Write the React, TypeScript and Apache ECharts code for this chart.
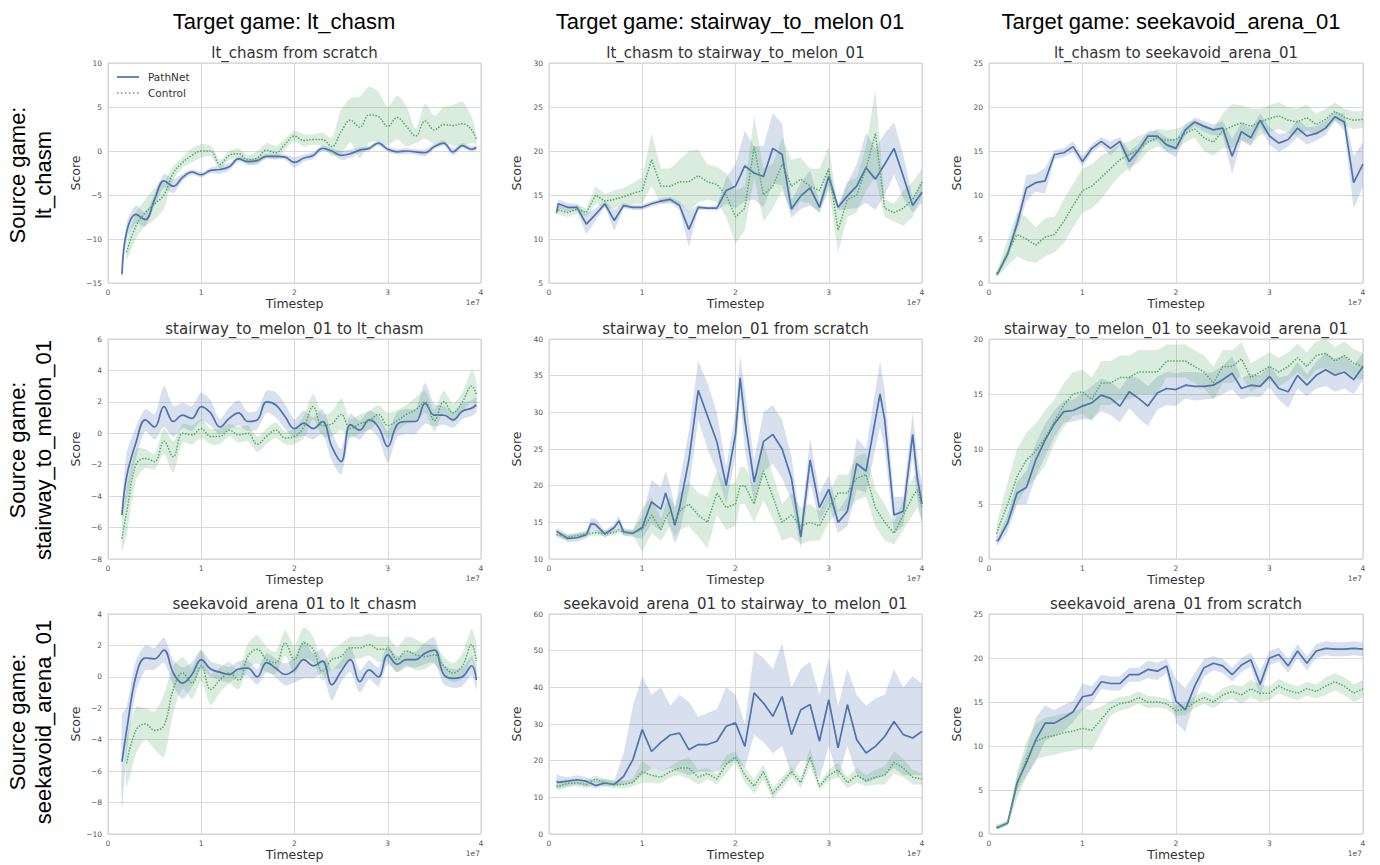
import React, { useEffect, useRef } from "react";
import * as echarts from "echarts";

// ---- x grids (timestep, units of 1e7) ----
const X_A = [0.15,0.2,0.3,0.4,0.5,0.6,0.7,0.8,0.9,1.0, 1.1,1.2,1.3,1.4,1.5,1.6,1.7,1.8,1.9,2.0, 2.1,2.2,2.3,2.4,2.5,2.6,2.7,2.8,2.9,3.0, 3.1,3.2,3.3,3.4,3.5,3.6,3.7,3.8,3.9,3.95];
const X_B = [0.08,0.1,0.2,0.3,0.4,0.5,0.6,0.7,0.8,0.9, 1.0,1.1,1.2,1.3,1.4,1.5,1.6,1.7,1.8,1.9, 2.0,2.1,2.2,2.3,2.4,2.5,2.6,2.7,2.8,2.9, 3.0,3.1,3.2,3.3,3.4,3.5,3.6,3.7,3.8,3.9, 4.0];
const X_5 = [0.08,0.2,0.3,0.4,0.45,0.5,0.6,0.7,0.75,0.8, 0.9,1.0,1.1,1.2,1.25,1.3,1.35,1.4,1.5,1.6, 1.7,1.8,1.9,2.0,2.05,2.1,2.2,2.3,2.4,2.5, 2.6,2.7,2.8,2.9,3.0,3.1,3.2,3.3,3.4,3.5, 3.55,3.6,3.7,3.8,3.9,3.95,4.0];

// ---- Panel 1: lt_chasm from scratch ----
const p1PathNet = [-14,-9.2,-7.2,-7.8,-5.5,-3.4,-4.0,-3.0,-2.4,-2.7, -2.2,-2.1,-1.8,-0.9,-1.2,-1.1,-0.6,-0.6,-0.7,-1.3, -0.8,-0.5,0.3,0.0,-0.5,-0.3,0.1,0.3,0.9,0.2, -0.1,0.0,-0.1,-0.2,0.5,0.9,-0.1,0.6,0.2,0.4];
const p1PathNetSpread = [0.8,1.0,1.0,0.8,0.7,0.8,0.8,0.4,0.3,0.3, 0.3,0.5,0.4,0.3,0.4,0.3,0.3,0.3,0.3,0.6, 0.4,0.4,0.3,0.3,0.5,0.5,0.3,0.3,0.3,0.3, 0.3,0.3,0.3,0.4,0.3,0.3,0.4,0.3,0.3,0.3];
const p1Control = [null,-11.5,-8.5,-7.0,-6.0,-5.0,-2.5,-1.3,-0.5,0.0, 0.0,-1.5,-0.5,-0.3,-1.0,-0.8,0.1,-0.2,0.8,1.7, 1.2,1.3,1.3,0.5,2.2,3.5,2.7,4.1,3.9,2.8, 3.8,2.8,1.7,3.4,2.4,3.0,2.9,3.1,2.4,1.3];
const p1ControlSpread = [0,0.8,1.5,1.5,1.8,1.5,0.8,0.6,0.8,0.8, 0.6,0.5,0.5,0.6,0.5,0.8,0.8,0.8,0.6,0.6, 0.7,0.6,0.8,1.0,2.5,2.5,3.5,3.2,2.8,2.2, 2.5,2.3,0.8,2.0,1.6,2.0,2.3,2.5,1.5,0.5];

// ---- Panel 2: lt_chasm to stairway_to_melon_01 ----
const p2PathNet = [13.0,14.0,13.6,13.6,11.7,12.8,14.0,12.1,13.8,13.6, 13.6,14.0,14.3,14.5,13.8,11.1,13.6,13.5,13.5,15.5, 16.0,18.3,17.5,17.1,20.3,19.6,13.4,14.9,15.8,13.6, 17.1,13.6,14.9,16.0,18.1,16.8,18.5,20.3,17.1,13.8, 15.3];
const p2PathNetSpread = [0.3,0.5,0.5,0.4,1.2,0.7,0.3,1.2,0.3,0.3, 0.3,0.3,0.3,0.3,0.5,2.0,0.3,0.2,0.3,1.5, 2.5,4.0,3.0,3.5,4.0,3.5,1.0,1.5,2.0,0.6, 1.0,0.3,1.5,2.5,4.0,3.5,3.5,3.0,2.5,0.8, 1.2];
const p2Control = [13.0,13.3,13.0,13.4,13.0,15.0,14.3,14.5,14.8,15.2, 15.5,19.0,16.0,16.0,16.5,16.5,17.2,16.5,16.2,15.0, 12.5,13.5,20.5,15.0,16.0,18.5,16.0,16.8,16.0,15.5, 18.0,11.0,14.5,15.0,18.0,22.0,13.5,13.0,13.5,14.5, 16.5];
const p2ControlSpread = [0.3,0.5,0.5,0.5,0.5,1.0,0.8,1.0,1.0,1.2, 1.5,3.0,2.0,2.0,2.5,3.5,3.0,2.0,2.0,2.5, 3.0,2.5,3.5,3.0,2.5,3.0,3.0,2.5,2.0,2.5, 2.5,2.5,2.0,2.0,2.5,5.0,1.0,1.0,2.0,2.0, 1.5];

// ---- Panel 3: lt_chasm to seekavoid_arena_01 ----
const p3PathNet = [1.0,1.2,3.3,6.7,10.8,11.4,11.6,14.6,14.8,15.5, 13.8,15.3,16.1,15.3,16.1,13.8,15.1,16.7,16.7,15.7, 15.3,17.4,18.3,17.8,17.4,17.6,14.4,17.2,16.5,18.5, 16.7,15.9,16.3,17.6,16.7,17.0,17.6,18.9,18.3,11.4, 13.5];
const p3PathNetSpread = [0.3,0.3,0.5,0.8,1.5,1.0,1.5,0.5,0.5,0.6, 0.6,0.5,0.5,0.8,0.5,1.2,0.7,0.6,0.6,0.8, 1.0,0.6,0.5,0.6,0.6,0.8,2.0,1.0,1.0,0.8, 1.0,1.0,0.8,1.0,1.0,0.8,0.8,0.5,1.0,3.0, 2.5];
const p3Control = [1.0,1.3,3.5,5.5,5.0,4.3,5.2,5.5,7.0,8.8, 10.5,11.0,12.0,13.0,14.0,14.6,15.2,16.0,16.5,16.2, 16.3,17.0,17.5,16.5,16.0,17.3,17.8,18.2,17.8,18.3, 18.7,19.0,18.5,18.3,18.8,18.0,18.6,19.5,18.8,18.5, 18.6];
const p3ControlSpread = [0.3,0.5,1.5,2.5,2.5,2.0,2.2,2.0,2.5,2.5, 2.5,2.5,2.5,2.0,1.8,1.5,1.5,1.0,1.0,1.2, 1.2,1.0,1.0,1.5,1.5,2.0,2.5,2.0,2.0,1.5, 1.5,1.5,1.5,1.5,1.5,1.2,1.2,1.0,1.0,1.0, 1.0];

// ---- Panel 4: stairway_to_melon_01 to lt_chasm ----
const p4PathNet = [-5.2,-2.75,-0.6,0.85,0.4,1.7,0.75,1.15,0.95,1.7, 1.3,0.4,0.95,1.3,0.75,0.85,2.0,1.8,1.05,0.3, 0.65,0.3,0.75,-0.85,-1.8,0.55,0.2,0.85,0.4,-0.85, 0.55,0.75,0.75,1.9,1.15,1.15,0.85,1.4,1.6,1.8];
const p4PathNetSpread = [0.3,1.5,1.0,0.7,0.8,1.3,1.0,0.8,0.8,0.9, 0.8,0.5,0.7,0.8,0.6,0.6,0.7,0.8,0.8,0.6, 0.8,0.7,0.8,0.9,0.8,0.7,0.6,0.6,0.7,1.0, 0.8,0.8,0.8,1.3,0.7,0.6,0.5,0.5,0.5,0.5];
const p4Control = [-6.7,-5.0,-2.0,-1.6,-1.8,-0.5,-1.5,0.0,-0.1,0.3, -0.2,-0.2,0.2,-0.1,0.0,-0.7,-0.2,0.2,-0.3,-0.2, 0.4,1.7,0.5,0.6,1.2,0.3,0.6,0.8,1.2,0.5, 0.8,1.2,1.5,2.0,0.8,2.0,1.3,2.0,3.0,2.5];
const p4ControlSpread = [0.8,1.5,1.0,0.6,0.5,0.8,1.0,0.6,0.6,0.6, 0.5,0.5,0.4,0.5,0.5,0.5,0.5,0.5,0.4,0.5, 0.7,0.8,0.7,0.8,1.0,0.6,0.6,0.6,0.6,0.8, 0.7,0.6,0.8,0.7,0.7,0.7,0.6,0.6,1.0,0.8];

// ---- Panel 5: stairway_to_melon_01 from scratch ----
const p5PathNet = [13.8,12.8,12.9,13.3,14.8,14.7,13.4,14.3,15.2,13.7, 13.5,14.3,17.8,16.8,19.0,17.0,14.6,17.0,23.5,33.0, 29.5,26.0,20.0,27.0,34.7,29.0,20.5,26.0,27.0,25.0, 21.0,13.0,23.5,17.0,19.5,15.0,16.5,23.0,22.0,29.0, 32.5,29.0,16.0,16.5,27.0,21.0,17.5];
const p5PathNetSpread = [0.5,0.5,0.5,0.5,0.8,0.8,0.5,0.5,0.7,0.5, 0.5,1.5,3.0,3.0,3.0,3.0,2.5,3.5,4.0,4.0, 4.5,4.0,2.5,3.0,3.0,4.0,3.0,4.0,4.0,4.0, 3.0,1.5,3.0,2.0,2.0,1.5,2.0,3.5,3.0,4.0, 4.5,4.0,2.5,2.0,3.0,3.0,2.5];
const p5Control = [13.3,13.0,13.2,13.4,13.5,13.6,13.5,13.6,14.0,13.6, 13.6,14.0,16.0,14.0,15.5,16.5,15.0,16.5,17.5,16.0, 15.0,19.0,17.0,17.5,20.0,20.0,17.5,22.0,18.5,15.0, 16.0,14.5,15.0,14.5,17.0,19.0,19.0,21.0,21.5,17.0, 16.0,15.0,13.5,16.0,18.5,19.5,17.0];
const p5ControlSpread = [0.4,0.4,0.4,0.4,0.4,0.4,0.4,0.4,0.4,0.4, 0.4,3.0,2.5,1.5,2.0,2.0,2.0,2.5,3.0,3.0, 3.5,3.0,3.0,3.0,2.5,2.5,2.5,4.0,3.0,2.5, 3.0,2.5,2.5,2.0,2.0,2.5,2.5,3.0,3.0,2.5, 2.5,2.5,1.5,2.0,2.5,2.5,2.0];

// ---- Panel 6: stairway_to_melon_01 to seekavoid_arena_01 ----
const p6PathNet = [1.65,1.7,3.3,6.0,6.5,9.0,10.8,12.3,13.4,13.5, 13.9,14.2,14.9,14.6,13.9,15.2,14.6,13.9,15.1,15.5, 15.4,15.8,15.7,15.7,15.8,16.3,16.9,15.5,15.8,15.7, 16.6,15.5,15.2,16.7,15.8,16.7,17.2,16.7,17.0,16.3, 17.5];
const p6PathNetSpread = [0.4,0.4,0.8,1.0,1.5,1.5,1.5,1.2,1.0,1.0, 1.2,1.5,1.5,1.5,1.5,1.5,1.8,1.8,1.5,1.5, 1.5,1.2,1.3,1.2,1.2,1.3,1.5,1.0,1.0,1.0, 1.0,1.0,1.5,1.2,1.0,1.2,1.5,1.5,1.5,1.3, 1.2];
const p6Control = [2.3,2.8,5.0,7.5,9.0,9.8,11.0,12.5,14.0,15.0, 15.2,14.5,16.0,16.0,16.5,16.5,17.0,17.0,17.0,18.0, 18.0,18.0,17.5,17.0,16.0,17.5,17.5,18.2,16.5,17.0, 17.5,17.0,17.5,18.3,17.5,18.5,18.7,18.0,18.5,17.8, 17.5];
const p6ControlSpread = [0.5,1.0,2.0,2.5,2.5,2.5,2.5,2.0,2.0,2.0, 2.0,2.0,2.0,2.0,2.0,2.0,2.0,2.0,2.0,1.5, 1.5,1.5,1.5,1.5,1.5,1.5,1.5,1.5,1.3,1.3, 1.3,1.3,1.3,1.3,1.3,1.3,1.3,1.3,1.3,1.3, 1.2];

// ---- Panel 7: seekavoid_arena_01 to lt_chasm ----
const p7PathNet = [-5.4,-3.4,0.05,1.2,1.15,1.7,0.25,-0.4,0.15,1.1, 0.5,0.3,0.15,0.5,0.55,0.0,0.9,0.55,0.15,0.45, 1.1,0.7,1.0,-0.5,0.35,1.1,-0.3,0.45,0.0,1.4, 0.8,1.1,1.1,1.5,1.7,0.15,-0.1,0.0,0.7,-0.2];
const p7PathNetSpread = [3.0,1.5,1.0,0.8,0.7,0.8,0.8,1.0,0.8,0.6, 0.5,0.5,0.5,0.5,0.5,0.5,0.6,0.6,0.7,0.8, 1.2,0.8,0.8,1.0,0.7,0.8,0.7,0.6,0.6,0.6, 0.5,0.5,0.5,0.7,0.8,0.6,0.6,0.6,0.6,0.6];
const p7Control = [null,-5.5,-3.4,-3.0,-3.4,-3.1,-0.8,0.25,-0.4,0.7, -0.8,-0.2,0.25,-0.2,1.3,1.75,1.1,0.9,2.15,1.1, 2.15,1.75,0.35,1.1,1.3,1.85,1.85,2.05,1.75,1.75, 1.1,1.65,1.4,1.3,1.4,0.7,0.25,0.7,2.05,1.0];
const p7ControlSpread = [0,1.5,1.5,1.0,1.2,2.0,1.5,1.0,1.0,1.0, 1.0,0.8,0.7,0.6,0.8,0.9,0.8,0.7,0.8,0.9, 1.0,0.8,0.6,0.6,0.8,0.7,0.7,0.7,0.8,0.8, 0.8,0.9,1.0,0.8,0.6,0.6,0.6,0.8,1.0,1.0];

// ---- Panel 8: seekavoid_arena_01 to stairway_to_melon_01 ----
const p8PathNet = [14.4,14.1,14.4,14.8,14.4,13.2,13.9,13.5,15.7,20.3, 28.5,22.5,25.0,27.0,27.5,23.0,24.4,24.4,25.3,29.4, 30.3,23.9,38.5,35.7,32.1,37.5,27.1,33.9,35.3,25.3, 36.6,23.5,35.3,25.7,22.1,23.9,26.6,30.7,27.1,26.2, 28.0];
const p8PathNetLow = [12.5,12.5,13,13.5,13,12.5,13,13,13.5,14, 16,18,17,18,17,16,17,17,17,19, 20,18,27,25,22,24,16,20,20,15, 24,15,24,16,14,15,16,18,16,16, 16];
const p8PathNetHigh = [16.5,16,15.5,16,15.5,14.5,15,14.5,22,35, 43,38,40,35,38,36,32,33,34,40, 38,30,50,48,45,52,40,45,47,38, 48,35,45,38,35,37,38,45,40,43, 41];
const p8Control = [13.0,13.0,13.8,14.0,13.5,15.0,14.0,13.5,13.5,14.0, 17.0,16.0,15.5,17.0,18.0,18.0,15.5,16.5,15.0,19.0, 21.0,16.0,13.0,17.0,11.0,14.0,17.0,14.0,21.0,13.0, 16.0,17.5,14.0,16.0,14.5,15.5,16.0,19.5,18.0,15.5, 15.0];
const p8ControlSpread = [1,1,1,1,1,1,1,1,1,1, 3.0,2.0,1.5,1.5,2.0,3.0,2.0,1.5,1.5,2.5, 1.5,2.0,2.0,2.0,1.5,1.5,1.5,1.5,2.5,1.0, 1.5,2.0,1.5,2.0,1.5,2.0,2.5,3.0,2.5,2.0, 1.5];

// ---- Panel 9: seekavoid_arena_01 from scratch ----
const p9PathNet = [0.76,0.76,1.25,5.8,8.1,10.7,12.6,12.6,13.2,13.9, 15.6,15.8,17.3,17.1,17.1,18.1,18.1,18.7,18.5,19.1, 15.1,14.1,16.8,18.9,19.4,19.1,18.1,19.2,19.8,17.0, 20.0,20.4,19.1,20.8,19.4,20.8,21.1,21.0,21.0,21.1, 21.0];
const p9PathNetSpread = [0.2,0.2,0.2,0.8,1.5,2.5,2.0,1.5,1.5,1.2, 1.5,1.0,0.8,0.8,0.8,0.8,0.8,1.0,1.0,0.8, 2.5,2.5,1.5,1.0,0.8,0.8,0.8,0.8,0.8,1.5, 0.8,0.8,0.8,0.8,0.8,0.8,0.8,0.8,0.8,0.8, 0.8];
const p9Control = [0.8,0.8,1.3,5.5,8.5,10.5,11.0,11.2,11.5,11.7, 12.0,11.8,13.0,14.3,14.8,15.0,15.5,15.0,15.0,14.8, 14.0,14.2,15.0,15.5,15.0,15.8,16.2,15.8,16.5,16.0, 16.0,16.8,16.3,16.0,16.5,16.2,16.8,17.3,16.8,16.0, 16.5];
const p9ControlSpread = [0.3,0.3,0.3,1.5,2.0,2.0,2.2,2.2,2.2,2.2, 2.3,2.3,1.5,0.8,0.8,0.7,0.7,0.7,0.6,0.6, 0.6,0.7,0.7,0.7,0.7,0.8,0.8,1.0,1.0,1.0, 0.8,0.8,0.8,0.8,0.8,0.8,1.0,1.0,1.0,1.0, 1.0];

// ---- texts ----
const targetTitles = ["Target game: lt_chasm", "Target game: stairway_to_melon 01", "Target game: seekavoid_arena_01"];
const sourceNames = ["lt_chasm", "stairway_to_melon_01", "seekavoid_arena_01"];
const panelTitles = [
  "lt_chasm from scratch", "lt_chasm to stairway_to_melon_01", "lt_chasm to seekavoid_arena_01",
  "stairway_to_melon_01 to lt_chasm", "stairway_to_melon_01 from scratch", "stairway_to_melon_01 to seekavoid_arena_01",
  "seekavoid_arena_01 to lt_chasm", "seekavoid_arena_01 to stairway_to_melon_01", "seekavoid_arena_01 from scratch",
];
const legendNames = ["PathNet", "Control"];
const yRanges = [[-15, 10, 5], [5, 30, 5], [0, 25, 5], [-8, 6, 2], [10, 40, 5], [0, 20, 5], [-10, 4, 2], [0, 60, 10], [0, 25, 5]];

type Panel = {
  x: number[];
  pn: number[];
  pnW?: number[];
  pnLo?: number[];
  pnHi?: number[];
  ct: (number | null)[];
  ctW: number[];
  smooth: boolean;
};

const panels: Panel[] = [
  { x: X_A, pn: p1PathNet, pnW: p1PathNetSpread, ct: p1Control, ctW: p1ControlSpread, smooth: true },
  { x: X_B, pn: p2PathNet, pnW: p2PathNetSpread, ct: p2Control, ctW: p2ControlSpread, smooth: false },
  { x: X_B, pn: p3PathNet, pnW: p3PathNetSpread, ct: p3Control, ctW: p3ControlSpread, smooth: false },
  { x: X_A, pn: p4PathNet, pnW: p4PathNetSpread, ct: p4Control, ctW: p4ControlSpread, smooth: true },
  { x: X_5, pn: p5PathNet, pnW: p5PathNetSpread, ct: p5Control, ctW: p5ControlSpread, smooth: false },
  { x: X_B, pn: p6PathNet, pnW: p6PathNetSpread, ct: p6Control, ctW: p6ControlSpread, smooth: false },
  { x: X_A, pn: p7PathNet, pnW: p7PathNetSpread, ct: p7Control, ctW: p7ControlSpread, smooth: true },
  { x: X_B, pn: p8PathNet, pnLo: p8PathNetLow, pnHi: p8PathNetHigh, ct: p8Control, ctW: p8ControlSpread, smooth: false },
  { x: X_B, pn: p9PathNet, pnW: p9PathNetSpread, ct: p9Control, ctW: p9ControlSpread, smooth: false },
];

const BLUE = "#4c72b0";
const GREEN = "#55a868";
const BLUE_BAND = "rgba(76,114,176,0.22)";
const GREEN_BAND = "rgba(85,168,104,0.22)";
const FONT = "DejaVu Sans";
const TITLE_FONT = "Liberation Sans";

const colLeft = [108, 549, 989];
const colWidth = [373, 373, 374];
const rowTop = [63, 339, 614];
const rowHeight = 220;

function fmt(v: number) {
  return v < 0 ? "\u2212" + Math.abs(v) : String(v);
}

// band drawn as one polygon through the axis scales (api.coord)
function bandSeries(i: number, xs: number[], lo: number[], hi: number[], color: string, smooth: boolean, z: number) {
  return {
    type: "custom",
    xAxisIndex: i,
    yAxisIndex: i,
    silent: true,
    z,
    data: xs.map((x, k) => [x, lo[k], hi[k]]),
    encode: { x: 0, y: [1, 2] },
    renderItem: (params: any, api: any) => {
      if (params.dataIndex !== 0) return { type: "group", children: [] };
      const upper = xs.map((x, k) => api.coord([x, hi[k]]));
      const lower = xs.map((x, k) => api.coord([x, lo[k]])).reverse();
      return {
        type: "polygon",
        shape: { points: upper.concat(lower), smooth: smooth ? 0.25 : 0 },
        style: { fill: color, stroke: "none" },
      };
    },
  };
}

function buildOption() {
  const grid: any[] = [];
  const xAxis: any[] = [];
  const yAxis: any[] = [];
  const series: any[] = [];
  const graphic: any[] = [];

  panels.forEach((p, i) => {
    const r = Math.floor(i / 3);
    const c = i % 3;
    const left = colLeft[c];
    const width = colWidth[c];
    const top = rowTop[r];
    grid.push({ left, top, width, height: rowHeight, show: true, borderColor: "#cfcfcf", borderWidth: 1, containLabel: false });
    const [ymin, ymax, yint] = yRanges[i];
    xAxis.push({
      type: "value", gridIndex: i, min: 0, max: 4, interval: 1,
      axisLine: { show: false }, axisTick: { show: false },
      axisLabel: { fontSize: 7.5, color: "#555", margin: 5, fontFamily: FONT },
      splitLine: { lineStyle: { color: "#d9d9d9", width: 1 } },
      name: "Timestep", nameLocation: "middle", nameGap: 14,
      nameTextStyle: { fontSize: 12.5, color: "#333", fontFamily: FONT },
    });
    yAxis.push({
      type: "value", gridIndex: i, min: ymin, max: ymax, interval: yint,
      axisLine: { show: false }, axisTick: { show: false },
      axisLabel: { fontSize: 7.5, color: "#555", margin: 6, fontFamily: FONT, formatter: fmt },
      splitLine: { lineStyle: { color: "#d9d9d9", width: 1 } },
      name: "Score", nameLocation: "middle", nameGap: 26,
      nameTextStyle: { fontSize: 12.5, color: "#333", fontFamily: FONT },
    });

    const pnLo = p.x.map((_, k) => (p.pnLo ? p.pnLo[k] : p.pn[k] - (p.pnW as number[])[k]));
    const pnHi = p.x.map((_, k) => (p.pnHi ? p.pnHi[k] : p.pn[k] + (p.pnW as number[])[k]));
    const idxCt = p.x.map((_, k) => k).filter((k) => p.ct[k] !== null);
    const ctX = idxCt.map((k) => p.x[k]);
    const ctLo = idxCt.map((k) => (p.ct[k] as number) - p.ctW[k]);
    const ctHi = idxCt.map((k) => (p.ct[k] as number) + p.ctW[k]);

    series.push(bandSeries(i, p.x, pnLo, pnHi, BLUE_BAND, p.smooth, 1));
    series.push(bandSeries(i, ctX, ctLo, ctHi, GREEN_BAND, p.smooth, 2));

    series.push({
      type: "line", name: legendNames[0], xAxisIndex: i, yAxisIndex: i, symbol: "none", showSymbol: false,
      smooth: p.smooth ? 0.4 : false, z: 5, color: BLUE,
      lineStyle: { color: BLUE, width: 1.7 },
      data: p.x.map((xv, k) => [xv, p.pn[k]]),
    });
    series.push({
      type: "line", name: legendNames[1], xAxisIndex: i, yAxisIndex: i, symbol: "none", showSymbol: false,
      smooth: p.smooth ? 0.4 : false, z: 6, color: GREEN,
      lineStyle: { color: GREEN, width: 1.5, type: "dotted" },
      data: idxCt.map((k) => [p.x[k], p.ct[k]]),
    });

    graphic.push({
      type: "text", x: left + width / 2, y: top - 10,
      style: { text: panelTitles[i], textAlign: "center", textVerticalAlign: "middle", fontSize: 15, fontFamily: FONT, fill: "#333" },
    });
    graphic.push({
      type: "text", x: left + width - 1, y: top + rowHeight + 19,
      style: { text: "1e7", textAlign: "right", textVerticalAlign: "middle", fontSize: 7.5, fontFamily: FONT, fill: "#555" },
    });
  });

  // legend inside first panel
  graphic.push({ type: "line", shape: { x1: 117, y1: 77, x2: 139, y2: 77 }, style: { stroke: BLUE, lineWidth: 1.7 }, z: 10 });
  graphic.push({ type: "text", x: 148, y: 77, z: 10, style: { text: legendNames[0], textVerticalAlign: "middle", fontSize: 10.5, fontFamily: FONT, fill: "#333" } });
  graphic.push({ type: "line", shape: { x1: 117, y1: 93, x2: 139, y2: 93 }, style: { stroke: GREEN, lineWidth: 1.5, lineDash: [1.5, 2.5] }, z: 10 });
  graphic.push({ type: "text", x: 148, y: 93, z: 10, style: { text: legendNames[1], textVerticalAlign: "middle", fontSize: 10.5, fontFamily: FONT, fill: "#333" } });

  const colCenters = [284, 730, 1171];
  targetTitles.forEach((t, c) => {
    graphic.push({
      type: "text", x: colCenters[c], y: 21,
      style: { text: t, textAlign: "center", textVerticalAlign: "middle", fontSize: 22, fontFamily: TITLE_FONT, fill: "#000" },
    });
  });
  const rowCenters = [175, 450, 722];
  sourceNames.forEach((s, r) => {
    graphic.push({
      type: "text", x: 17, y: rowCenters[r], rotation: Math.PI / 2,
      style: { text: "Source game:", textAlign: "center", textVerticalAlign: "middle", fontSize: 22, fontFamily: TITLE_FONT, fill: "#000" },
    });
    graphic.push({
      type: "text", x: 43, y: rowCenters[r], rotation: Math.PI / 2,
      style: { text: s, textAlign: "center", textVerticalAlign: "middle", fontSize: 22, fontFamily: TITLE_FONT, fill: "#000" },
    });
  });

  return {
    animation: false,
    backgroundColor: "#ffffff",
    textStyle: { fontFamily: FONT },
    grid, xAxis, yAxis, series, graphic,
  };
}

export default function App() {
  const ref = useRef<HTMLDivElement>(null);
  useEffect(() => {
    document.body.style.margin = "0";
    const chart = echarts.init(ref.current as HTMLDivElement, null, { renderer: "svg" });
    chart.setOption(buildOption() as any);
    return () => chart.dispose();
  }, []);
  return <div ref={ref} style={{ width: 1380, height: 865 }} />;
}
